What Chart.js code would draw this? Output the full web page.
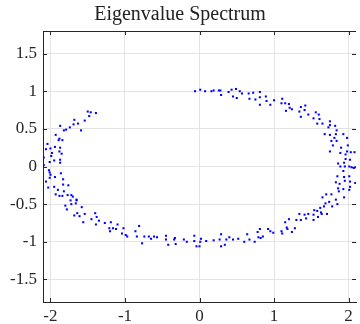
<!DOCTYPE html>
<html>
<head>
<meta charset="utf-8">
<title>Eigenvalue Spectrum</title>
<script src="https://cdn.jsdelivr.net/npm/chart.js@4/dist/chart.umd.min.js"></script>
<style>
    html, body { margin: 0; padding: 0; background: #ffffff; }
    #wrap { width: 360px; height: 324px; }
</style>
</head>
<body>
<div id="wrap"><canvas id="spectrum" width="360" height="324"></canvas></div>
<script>
const eigenvalues = [
    [-0.06, 1.00], [0.01, 1.02], [0.075, 1.00], [0.16, 1.00], [0.19, 1.01], [0.26, 1.01], [0.28, 1.01],
    [0.29, 0.95], [0.39, 0.99], [0.43, 1.02], [0.49, 1.03], [0.45, 0.93], [0.50, 0.91], [0.54, 1.00],
    [0.57, 0.97], [0.66, 0.97], [0.72, 0.98], [0.81, 0.99], [0.67, 0.90], [0.75, 0.89], [0.81, 0.92],
    [0.89, 0.93], [0.81, 0.82], [0.90, 0.87], [0.95, 0.82], [1.00, 0.88], [1.11, 0.90], [1.10, 0.84],
    [1.15, 0.84], [1.20, 0.83], [1.16, 0.74], [1.21, 0.78], [1.24, 0.76], [1.36, 0.79], [1.42, 0.81],
    [1.34, 0.73], [1.41, 0.75], [1.36, 0.66], [1.46, 0.69], [1.56, 0.72], [1.53, 0.64], [1.60, 0.69],
    [1.61, 0.63], [1.58, 0.57], [1.65, 0.57], [1.75, 0.60], [1.75, 0.55], [1.73, 0.52], [1.82, 0.54],
    [1.84, 0.48], [1.68, 0.43], [1.75, 0.42], [1.83, 0.43], [1.93, 0.43], [1.81, 0.38], [1.98, 0.38],
    // right side
    [1.77, 0.34], [1.84, 0.34], [1.90, 0.25], [1.99, 0.28], [1.79, 0.28], [1.75, 0.20], [1.89, 0.18],
    [1.98, 0.20], [2.03, 0.19], [2.08, 0.19], [1.96, 0.16], [2.02, 0.09], [1.96, 0.10], [1.86, 0.04],
    [1.94, 0.05], [1.95, 0.00], [2.01, 0.00], [2.04, -0.01], [2.07, -0.02], [2.09, -0.01], [1.89, 0.00],
    [1.93, -0.06], [1.85, -0.13], [1.94, -0.14], [2.01, -0.13], [1.95, -0.19], [1.83, -0.21], [1.88, -0.23],
    [2.02, -0.20], [2.09, -0.22], [1.86, -0.29], [1.93, -0.30], [2.02, -0.27], [1.87, -0.33], [2.01, -0.31],
    [1.77, -0.37], [1.70, -0.37], [1.65, -0.41], [1.94, -0.41], [1.83, -0.44], [1.69, -0.49], [1.74, -0.47],
    [1.85, -0.50], [1.78, -0.53], [1.67, -0.53], [1.62, -0.55], [1.58, -0.59], [1.54, -0.58], [1.71, -0.63],
    [1.63, -0.61], [1.64, -0.63], [1.53, -0.64], [1.59, -0.67], [1.46, -0.63], [1.41, -0.64], [1.34, -0.63],
    [1.43, -0.69], [1.53, -0.71], [1.36, -0.71], [1.30, -0.71], [1.20, -0.70], [1.28, -0.82], [1.17, -0.81],
    // lower right
    [1.15, -0.74], [1.18, -0.83], [1.24, -0.87], [1.10, -0.86], [1.11, -0.89], [0.99, -0.88], [0.95, -0.86],
    [0.92, -0.83], [0.85, -0.93], [0.82, -0.95], [0.81, -0.83], [0.79, -0.94], [0.78, -0.87], [0.74, -1.00],
    [0.67, -0.97], [0.64, -0.90], [0.60, -1.00], [0.52, -0.96], [0.45, -0.97], [0.40, -0.94], [0.36, -0.97],
    [0.34, -1.04], [0.29, -1.06], [0.29, -0.90], [0.27, -0.97], [0.19, -0.98], [0.09, -0.99], [0.01, -1.00],
    [0.02, -0.96], [0.00, -1.06], [-0.04, -1.06], [-0.07, -0.99], [-0.07, -0.92], [-0.17, -1.00], [-0.21, -0.97],
    // lower left
    [-0.32, -1.03], [-0.33, -0.95], [-0.34, -0.97], [-0.42, -1.04], [-0.45, -0.97], [-0.45, -0.92], [-0.57, -0.94],
    [-0.61, -0.93], [-0.65, -0.96], [-0.68, -0.93], [-0.74, -0.93], [-0.77, -1.02], [-0.81, -0.79], [-0.84, -0.93],
    [-0.86, -0.86], [-0.97, -0.93], [-0.99, -0.91], [-1.04, -0.89], [-1.02, -0.82], [-1.12, -0.83], [-1.10, -0.77],
    [-1.16, -0.82], [-1.19, -0.74], [-1.20, -0.86], [-1.21, -0.82], [-1.27, -0.75], [-1.35, -0.72], [-1.39, -0.77],
    [-1.38, -0.67], [-1.40, -0.62], [-1.45, -0.70], [-1.56, -0.74], [-1.54, -0.63], [-1.58, -0.54], [-1.61, -0.66],
    [-1.64, -0.62], [-1.68, -0.65], [-1.65, -0.45], [-1.66, -0.49], [-1.72, -0.50], [-1.78, -0.57], [-1.80, -0.52],
    // left side
    [-1.73, -0.45], [-1.65, -0.44], [-1.70, -0.40], [-1.72, -0.38], [-1.77, -0.38], [-1.82, -0.33], [-1.84, -0.39],
    [-1.88, -0.39], [-1.93, -0.37], [-1.90, -0.31], [-1.76, -0.25], [-1.83, -0.24], [-1.83, -0.17], [-1.95, -0.27],
    [-2.03, -0.28], [-1.94, -0.14], [-2.06, -0.20], [-2.01, -0.15], [-1.86, -0.09], [-2.00, -0.11], [-2.01, -0.08],
    [-2.02, -0.05], [-2.09, 0.02], [-2.01, 0.06], [-1.87, 0.05], [-1.87, 0.09], [-1.95, 0.08], [-2.10, 0.08],
    [-2.09, 0.12], [-1.99, 0.14], [-1.98, 0.18], [-1.85, 0.17], [-1.88, 0.20], [-1.87, 0.25], [-1.94, 0.26],
    [-2.06, 0.23], [-2.00, 0.24], [-2.04, 0.30], [-1.84, 0.35], [-1.89, 0.35], [-1.88, 0.37], [-1.93, 0.42],
    [-1.82, 0.48], [-1.79, 0.49], [-1.59, 0.48], [-1.87, 0.54], [-1.74, 0.52], [-1.69, 0.56], [-1.63, 0.57],
    [-1.68, 0.62], [-1.54, 0.61], [-1.48, 0.67], [-1.50, 0.73], [-1.46, 0.72], [-1.39, 0.71]
];

const xTicks = [-2, -1, 0, 1, 2];
const xTickLabels = ['-2', '-1', '0', '1', '2'];
const yTicks = [-1.5, -1, -0.5, 0, 0.5, 1, 1.5];
const yTickLabels = ['-1.5', '-1', '-0.5', '0', '0.5', '1', '1.5'];

const serif = "'Liberation Serif', 'DejaVu Serif', serif";
const axisColor = '#262626';

// matlab style box: top line and inward tick marks on all four sides
const frameTicks = {
    id: 'frameTicks',
    afterDraw(chart) {
        const ctx = chart.ctx;
        const area = chart.chartArea;
        const xs = chart.scales.x;
        const ys = chart.scales.y;
        const len = 4;
        ctx.save();
        ctx.strokeStyle = axisColor;
        ctx.lineWidth = 1;
        ctx.beginPath();
        ctx.moveTo(area.left, area.top + 0.5);
        ctx.lineTo(area.right, area.top + 0.5);
        xTicks.forEach(v => {
            const px = Math.round(xs.getPixelForValue(v)) + 0.5;
            ctx.moveTo(px, area.bottom);
            ctx.lineTo(px, area.bottom - len);
            ctx.moveTo(px, area.top);
            ctx.lineTo(px, area.top + len);
        });
        yTicks.forEach(v => {
            const py = Math.round(ys.getPixelForValue(v)) + 0.5;
            ctx.moveTo(area.left, py);
            ctx.lineTo(area.left + len, py);
            ctx.moveTo(area.right, py);
            ctx.lineTo(area.right - len, py);
        });
        ctx.stroke();
        ctx.restore();
    }
};

const ctx = document.getElementById('spectrum').getContext('2d');
new Chart(ctx, {
    type: 'scatter',
    data: {
        datasets: [{
            data: eigenvalues.map(p => ({ x: p[0], y: p[1] })),
            pointStyle: 'rect',
            pointRadius: 1.45,
            borderWidth: 0,
            backgroundColor: '#0000ff',
            borderColor: '#0000ff'
        }]
    },
    options: {
        responsive: false,
        animation: false,
        layout: { padding: 0 },
        plugins: {
            legend: { display: false },
            tooltip: { enabled: false },
            title: {
                display: true,
                text: 'Eigenvalue Spectrum',
                color: '#222222',
                font: { family: serif, size: 20, weight: 'normal' },
                padding: { top: 3, bottom: 4 }
            }
        },
        scales: {
            x: {
                type: 'linear',
                min: -2.1,
                max: 2.1,
                afterBuildTicks: s => { s.ticks = xTicks.map(v => ({ value: v })); },
                afterFit: s => { s.height = 22; },
                ticks: {
                    color: axisColor,
                    font: { family: serif, size: 17 },
                    padding: 4,
                    maxRotation: 0,
                    callback: v => xTickLabels[xTicks.indexOf(v)]
                },
                grid: { color: '#e3e3e3', drawTicks: false },
                border: { color: axisColor, width: 1 }
            },
            y: {
                type: 'linear',
                min: -1.8,
                max: 1.8,
                afterBuildTicks: s => { s.ticks = yTicks.map(v => ({ value: v })); },
                afterFit: s => { s.width = 43; },
                ticks: {
                    color: axisColor,
                    font: { family: serif, size: 17 },
                    padding: 6,
                    callback: v => yTickLabels[yTicks.indexOf(v)]
                },
                grid: { color: '#e3e3e3', drawTicks: false },
                border: { color: axisColor, width: 1 }
            }
        }
    },
    plugins: [frameTicks]
});
</script>
</body>
</html>
